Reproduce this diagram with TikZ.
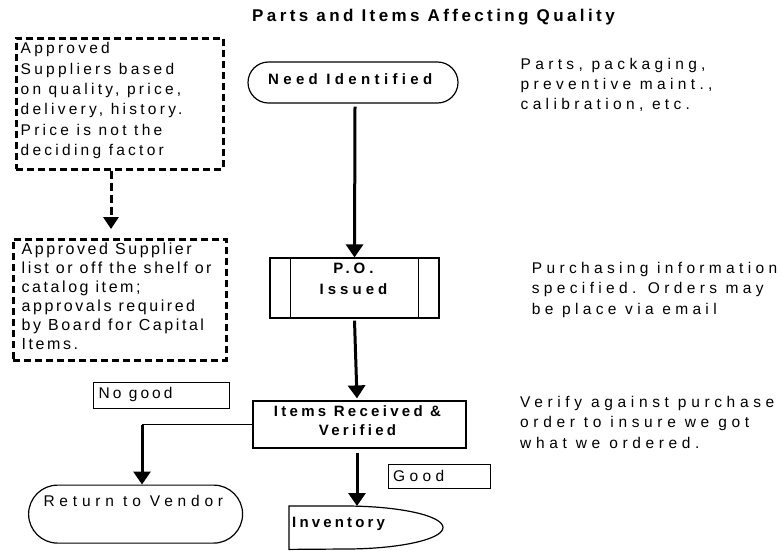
\documentclass[tikz,border=0pt]{standalone}
\usepackage{fontspec}
\setmainfont{Liberation Sans}
\usetikzlibrary{arrows.meta,calc}
% tracked Arial-like lettering: letter spacing, size, line distance
\newcommand\tracked[3]{\addfontfeatures{LetterSpace=#1}\fontsize{#2}{#3}\selectfont}

\begin{document}
\begin{tikzpicture}[x=1pt,y=-1pt,
  body/.style={font=\tracked{27}{15.5}{20}, inner sep=0pt, align=left, anchor=north west},
  heading/.style={font=\bfseries\tracked{27}{15}{21.5}, inner sep=0pt, align=center},
  box/.style={draw, line width=1.2pt, inner sep=0pt},
  rule/.style={line width=1.2pt},
  dashbox/.style={draw, line width=2.7pt, dash pattern=on 7pt off 4pt, inner sep=0pt},
  flow/.style={line width=3pt, -{Triangle[width=17pt,length=13pt]}},
  dashflow/.style={line width=3pt, dash pattern=on 8pt off 4pt, -{Triangle[width=15pt,length=12pt]}}]

\useasboundingbox (0,0) rectangle (781,550);

% heading
\node[heading, anchor=north west, font=\bfseries\tracked{20}{17}{20}] (title) at (252,9.3) {Parts and Items Affecting Quality};

% supplier notes on the left
\node[dashbox, minimum width=207pt, minimum height=131pt, anchor=north west] (sup) at (15,37) {};
\node[body, font=\tracked{21}{15.5}{20.3}] (suptext) at (20.5,42.5) {Approved\\Suppliers based\\on quality, price,\\delivery, history.\\Price is not the\\deciding factor};
\node[dashbox, minimum width=213pt, minimum height=121pt, anchor=north west] (list) at (12,238) {};
\node[body, font=\tracked{16}{16}{19}] (listtext) at (21.5,242.5) {Approved Supplier\\list or off the shelf or\\catalog item;\\approvals required\\by Board for Capital\\Items.};
\coordinate (drop) at ($(sup.south west)+(96,0)$);
\draw[dashflow] (drop) -- ($(drop |- list.north)+(0,-9)$);

% main flow
\node[box, rounded corners=20.5pt, minimum width=210pt, minimum height=41pt] (need) at (353,82.5) {};
\node[heading, anchor=north west, font=\bfseries\tracked{29}{15}{20}] (needtext) at (268,73.3) {Need Identified};

\node[box, minimum width=169pt, minimum height=60pt] (po) at (354.5,288) {};
\draw[rule] ($(po.north west)+(21,0)$) -- ($(po.south west)+(21,0)$);
\draw[rule] ($(po.north east)+(-21,0)$) -- ($(po.south east)+(-21,0)$);
\node[heading, anchor=north] (potext) at (353.5,262.5) {P.O.\\Issued};

\node[box, minimum width=213pt, minimum height=47pt] (items) at (359.5,424.5) {};
\node[heading, anchor=north, font=\bfseries\tracked{22}{15}{18.5}] (itemstext) at (357.5,405.5) {Items Received \&\\Verified};

\node[box, minimum width=136pt, minimum height=26pt, anchor=north west] (nogood) at (93,382) {};
\node[body, font=\tracked{20}{15.5}{20}] (nogoodtext) at (98.3,386.7) {No good};

\node[box, minimum width=102pt, minimum height=24pt, anchor=north west] (good) at (388,464) {};
\node[body, font=\tracked{28}{15.5}{20}] (goodtext) at (393,470) {Good};

\node[box, rounded corners=29pt, minimum width=214pt, minimum height=58pt, anchor=north west] (ret) at (28,484.5) {};
\node[body, font=\tracked{31}{15.5}{20}] (rettext) at (43.3,495.5) {Return to Vendor};

\node[inner sep=0pt, minimum width=154pt, minimum height=43pt, anchor=north west] (inv) at (289,506) {};
\draw[rule] (inv.north west) -- ++(56,0) arc[start angle=90, end angle=-90, x radius=98pt, y radius=21.5pt] -- (inv.south west) -- cycle;
\node[heading, anchor=north west, font=\bfseries\tracked{21}{15}{20}] (invtext) at (292,516.7) {Inventory};

% connectors
\draw[flow] ($(need.south)+(2,3)$) -- (po.north);
\draw[flow] ($(po.south)+(0,2)$) -- ($(items.north)+(-2.5,-2)$);
\draw[flow] ($(items.south)+(-2.5,4)$) -- ($(inv.north west)+(68,0)$);
\coordinate (turn) at (142,424.5);
\draw[rule] (items.west) -- (turn);
\draw[flow] (turn) -- (turn |- ret.north);

% side notes
\node[body, font=\tracked{28}{15.5}{20}] (note1) at (520.5,58.3) {Parts, packaging,\\preventive maint.,\\calibration, etc.};
\node[body, font=\tracked{28}{15.5}{20.5}] (note2) at (531.7,261.7) {Purchasing information\\specified. Orders may\\be place via email};
\node[body, font=\tracked{30}{15.5}{20.5}] (note3) at (520,396) {Verify against purchase\\order to insure we got\\what we ordered.};
\end{tikzpicture}
\end{document}
